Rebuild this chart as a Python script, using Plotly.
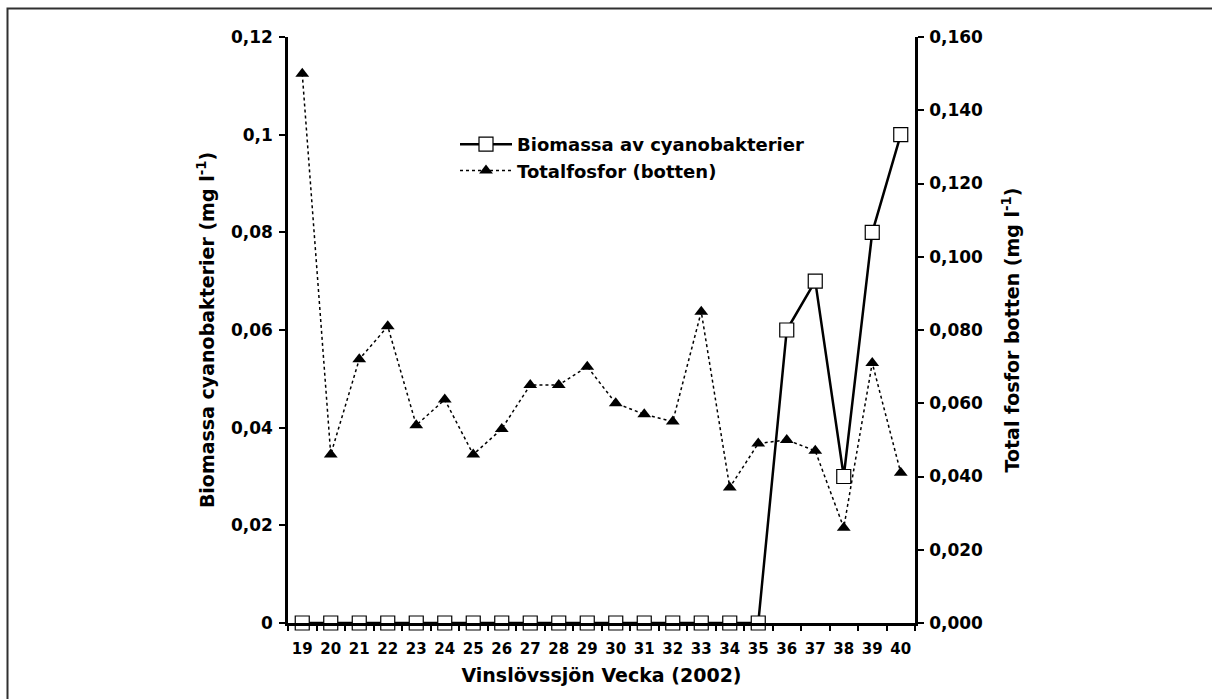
import plotly.graph_objects as go

weeks = [str(w) for w in range(19, 41)]
biomassa = [0, 0, 0, 0, 0, 0, 0, 0, 0, 0, 0, 0, 0, 0, 0, 0, 0,
            0.06, 0.07, 0.03, 0.08, 0.10]
totalfosfor = [0.150, 0.046, 0.072, 0.081, 0.054, 0.061, 0.046, 0.053,
               0.065, 0.065, 0.070, 0.060, 0.057, 0.055, 0.085, 0.037,
               0.049, 0.050, 0.047, 0.026, 0.071, 0.041]

FONT = "Verdana, DejaVu Sans, sans-serif"
W, H = 1212, 699
ML, MR, MT, MB = 288, 297, 37, 76
PW, PH = W - ML - MR, H - MT - MB

fig = go.Figure()
fig.add_trace(go.Scatter(
    x=weeks, y=biomassa, name="Biomassa av cyanobakterier",
    mode="lines+markers", yaxis="y",
    line=dict(color="black", width=2.5),
    marker=dict(symbol="square", size=14, color="white",
                line=dict(color="black", width=1.2)),
    cliponaxis=False,
))
fig.add_trace(go.Scatter(
    x=weeks, y=totalfosfor, name="Totalfosfor (botten)",
    mode="lines+markers", yaxis="y2",
    line=dict(color="black", width=1.5, dash="dot"),
    marker=dict(symbol="triangle-up", size=12, color="black"),
    cliponaxis=False,
))

ytickfont = dict(family=FONT, size=17, color="black", weight="bold")
titlefont = dict(family=FONT, size=19, color="black", weight="bold")

fig.update_layout(
    width=W, height=H, autosize=False,
    margin=dict(l=ML, r=MR, t=MT, b=MB),
    paper_bgcolor="white", plot_bgcolor="white",
    separators=", ",
    showlegend=True,
    legend=dict(x=(455 - ML) / PW, y=(623 - 126) / PH, xanchor="left", yanchor="top",
                font=dict(family=FONT, size=18, color="black", weight="bold"),
                bgcolor="rgba(0,0,0,0)", itemwidth=52, tracegroupgap=2),
    xaxis=dict(
        type="category", categoryorder="array", categoryarray=weeks,
        range=[-0.5, 21.5], tickson="boundaries",
        ticks="outside", ticklen=5, tickwidth=2, tickcolor="black",
        showline=True, linecolor="black", linewidth=2.5,
        showgrid=False, zeroline=False,
        tickangle=0, ticklabelstandoff=10,
        tickfont=dict(family=FONT, size=15, color="black", weight="bold"),
        title=dict(text="Vinslövssjön Vecka (2002)", font=titlefont, standoff=12),
    ),
    yaxis=dict(
        range=[0, 0.12], dtick=0.02, tick0=0,
        ticks="outside", ticklen=6, tickwidth=2, tickcolor="black",
        showline=True, linecolor="black", linewidth=2.5,
        showgrid=False, zeroline=False,
        ticklabelstandoff=3,
        tickfont=ytickfont,
        title=dict(text="Biomassa cyanobakterier (mg l<sup>-1</sup>)", font=titlefont, standoff=12),
    ),
    yaxis2=dict(
        range=[0, 0.16], dtick=0.02, tick0=0, tickformat=".3f",
        overlaying="y", side="right", anchor="x",
        ticks="outside", ticklen=6, tickwidth=2, tickcolor="black",
        showline=True, linecolor="black", linewidth=2.5,
        showgrid=False, zeroline=False,
        ticklabelstandoff=2,
        tickfont=ytickfont,
        title=dict(text="Total fosfor botten (mg l<sup>-1</sup>)", font=titlefont, standoff=24),
    ),
    shapes=[dict(
        type="rect", xref="paper", yref="paper",
        x0=(7.5 - ML) / PW, x1=(W + 60 - ML) / PW,
        y0=(623 - (H + 60)) / PH, y1=(623 - 8.5) / PH,
        line=dict(color="#303030", width=2), fillcolor="rgba(0,0,0,0)",
        layer="below",
    )],
)

fig.write_html("out.html")
